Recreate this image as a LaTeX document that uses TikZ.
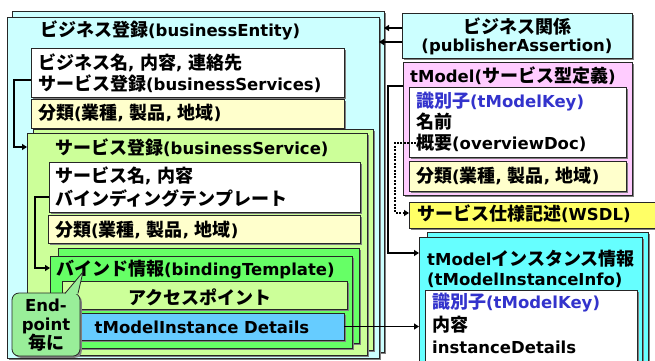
\documentclass[tikz,border=0pt]{standalone}
\usepackage{fontspec}
\setmainfont{Noto Sans CJK JP}
\newfontfamily\latfont{DejaVu Sans}
\usetikzlibrary{shadows,arrows.meta}
\definecolor{becyan}{HTML}{CCFFFF}
\definecolor{tan}{HTML}{FFFFCC}
\definecolor{lgreen}{HTML}{CCFF99}
\definecolor{bgreen}{HTML}{66FF66}
\definecolor{cgreen}{HTML}{99EE99}
\definecolor{bluebox}{HTML}{66CCFF}
\definecolor{pink}{HTML}{FFCCFF}
\definecolor{wsdl}{HTML}{FFFF66}
\definecolor{tiicyan}{HTML}{66FFFF}
\definecolor{keyblue}{HTML}{3333CC}
\newcommand\fsz{\fontsize{18}{20}\selectfont}
\newcommand\latn[1]{{\latfont\fontsize{16.5}{20}\selectfont\bfseries #1}}
\newcommand\mkbox[6]{\node[boxbase,#6,minimum width={(#4-#2)*1pt},minimum height={(#5-#3)*1pt}] (#1) at (#2,#3) {};}
\tikzset{
  boxbase/.style={anchor=north west,draw=black!85,line width=0.8pt,inner sep=0pt,outer sep=0pt,
    drop shadow={shadow xshift=1.8pt,shadow yshift=-1.8pt,fill=black!50,opacity=1}},
  lbl/.style={anchor=west,inner sep=0pt,font=\fsz\bfseries},
  clbl/.style={inner sep=0pt,font=\fsz\bfseries,align=center},
  arr/.style={line width=1.7pt,-{Triangle[length=5pt,width=6pt]}},
  dotarr/.style={line width=1.8pt,dash pattern=on 2pt off 1.4pt,-{Triangle[length=5pt,width=6pt]}},
}
\begin{document}
\begin{tikzpicture}[x=1pt,y=-1pt]
\useasboundingbox (0,0) rectangle (655,360);
\clip (0,0) rectangle (655,360);
% businessEntity stack
\mkbox{beback}{12}{11}{384}{352}{fill=becyan}
\mkbox{befront}{7}{17}{379}{358}{fill=becyan}
\node[lbl] (betitle) at (40,30) {ビジネス登録\latn{(businessEntity)}};
\mkbox{white1}{31}{48}{344}{97}{fill=white}
\node[lbl] (w1a) at (38,63) {ビジネス名\latn{, }内容\latn{, }連絡先};
\node[lbl] (w1b) at (38,84) {サービス登録\latn{(businessServices)}};
\mkbox{tan1}{31}{99}{344}{128}{fill=tan}
\node[lbl] (tan1t) at (38,113) {分類\latn{(}業種\latn{, }製品\latn{, }地域\latn{)}};
% businessService stack
\mkbox{bsback}{33}{129}{373}{350}{fill=lgreen}
\mkbox{bsfront}{27}{133}{367}{355}{fill=lgreen}
\node[lbl] (bstitle) at (55,148) {サービス登録\latn{(businessService)}};
\mkbox{white2}{49}{162}{360}{212}{fill=white}
\node[lbl] (w2a) at (55,176) {サービス名\latn{, }内容};
\node[lbl] (w2b) at (55,198) {バインディングテンプレート};
\mkbox{tan2}{48}{215}{360}{243}{fill=tan}
\node[lbl] (tan2t) at (55,230) {分類\latn{(}業種\latn{, }製品\latn{, }地域\latn{)}};
% bindingTemplate stack
\mkbox{btback}{58}{248}{359}{343}{fill=bgreen}
\mkbox{btfront}{50}{256}{352}{348}{fill=bgreen}
\node[lbl] (bttitle) at (56,270) {バインド情報\latn{(bindingTemplate)}};
\mkbox{ap}{62}{281}{347}{309}{fill=lgreen}
\node[clbl] (apt) at (200,297) {アクセスポイント};
\mkbox{blue}{62}{313}{344}{340}{fill=bluebox}
\node[clbl] (bluet) at (202,327) {\latn{tModelInstance Details}};
% callout
\node[boxbase,fill=cgreen,rounded corners=7pt,minimum width=68pt,minimum height=63pt] (call) at (12,293) {};
\fill[cgreen] (65,294.2) -- (83,272) -- (78,294.2) -- cycle;
\draw[black!85,line width=0.8pt] (65,293.4) -- (83,272) -- (78,293.4);
\node[clbl] (callt) at ([yshift=-1pt]call.center) {\latn{End-}\\[-1pt]\latn{point}\\[-1pt]毎に};
% left arrows
\draw[arr] (white1.west |- 0,80) -- (14,80) |- (bsfront.west |- 0,147);
\draw[arr] (white2.west |- 0,197) -- (35,197) |- (btfront.west |- 0,268);
% publisherAssertion
\mkbox{pa}{402}{13}{632}{58}{fill=becyan}
\node[clbl] (pat1) at (517,26) {ビジネス関係};
\node[clbl] (pat2) at (517,47) {\latn{(publisherAssertion)}};
\draw[arr] (pa.west |- 0,28) -- (beback.east |- 0,28);
\draw[arr] (pa.west |- 0,42) -- (befront.east |- 0,42);
% tModel
\mkbox{tm}{403}{62}{632}{195}{fill=pink}
\node[lbl] (tmt) at (410,76) {\latn{tModel(}サービス型定義\latn{)}};
\mkbox{tmw}{409}{87}{626}{157}{fill=white}
\node[lbl,text=keyblue] (tmk) at (416,102) {識別子\latn{(tModelKey)}};
\node[lbl] (tmn) at (416,122) {名前};
\node[lbl] (tmo) at (416,143) {概要\latn{(overviewDoc)}};
\mkbox{tmtan}{409}{161}{626}{191}{fill=tan}
\node[lbl] (tmtant) at (416,176) {分類\latn{(}業種\latn{, }製品\latn{, }地域\latn{)}};
% WSDL
\mkbox{ws}{409}{202}{670}{228}{fill=wsdl}
\node[lbl] (wst) at (417,214) {サービス仕様記述\latn{(WSDL)}};
% tModelInstanceInfo
\mkbox{tiiback}{427}{232}{648}{370}{fill=tiicyan}
\mkbox{tiifront}{419}{237}{642}{375}{fill=tiicyan}
\node[lbl] (tiit1) at (427,259) {\latn{tModel}インスタンス情報};
\node[lbl] (tiit2) at (427,280) {\latn{(tModelInstanceInfo)}};
\mkbox{tiiw}{425}{290}{637}{380}{fill=white}
\node[lbl,text=keyblue] (tiik) at (432,303) {識別子\latn{(tModelKey)}};
\node[lbl] (tiin) at (432,325) {内容};
\node[lbl] (tiid) at (432,347) {\latn{instanceDetails}};
% right connectors
\draw[arr] (tm.west |- 0,86) -- (388,86) |- (tiifront.west |- 0,253);
\draw[dotarr] (tmo.west) -- (395,143) |- (ws.west |- 0,213);
\draw[arr] (blue.east) -- (tiifront.west |- blue.east);
\end{tikzpicture}
\end{document}
